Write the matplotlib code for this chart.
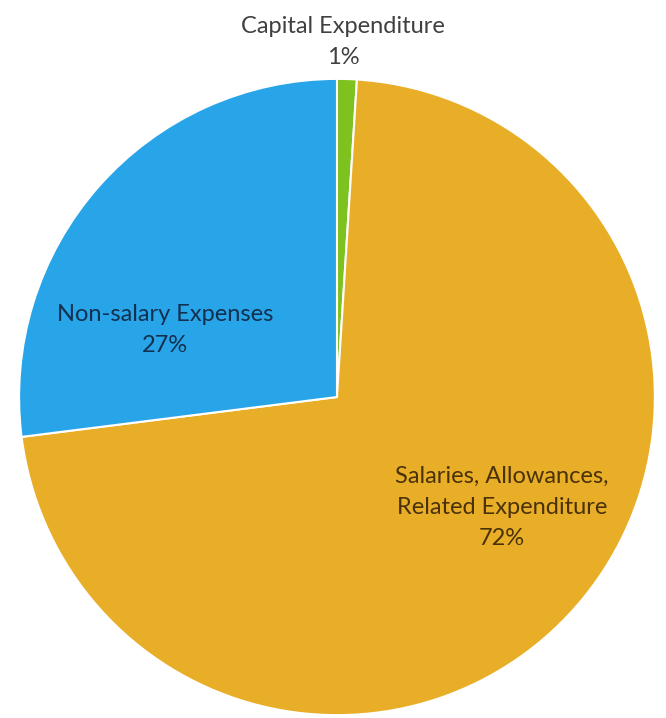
import matplotlib.pyplot as plt

# expenditure split
categories = ["Capital Expenditure", "Salaries, Allowances,\nRelated Expenditure", "Non-salary Expenses"]
shares = [1, 72, 27]
colors = ["#7dc21e", "#e9ae28", "#28a5e8"]
text_colors = ["#404040", "#4a3208", "#12304f"]

plt.rcParams["font.family"] = ["Lato", "DejaVu Sans"]

fig = plt.figure(figsize=(6.66, 7.18), dpi=100)
ax = fig.add_axes([0, 0, 1, 1])

ax.pie(shares, colors=colors, startangle=90, counterclock=False,
       wedgeprops=dict(edgecolor="white", linewidth=1.5))

# label positions (data coords, pie radius 1)
label_pos = [(0.02, 1.116), (0.519, -0.346), (-0.541, 0.211)]
for name, val, (x, y), c in zip(categories, shares, label_pos, text_colors):
    ax.text(x, y, f"{name}\n{val}%", ha="center", va="center",
            fontsize=17, color=c, linespacing=1.6)

ax.set_xlim(-1.06, 1.035)
ax.set_ylim(-1.009, 1.248)
ax.set_aspect("auto")
ax.axis("off")

fig.savefig("out.png", dpi=100, facecolor="white")
